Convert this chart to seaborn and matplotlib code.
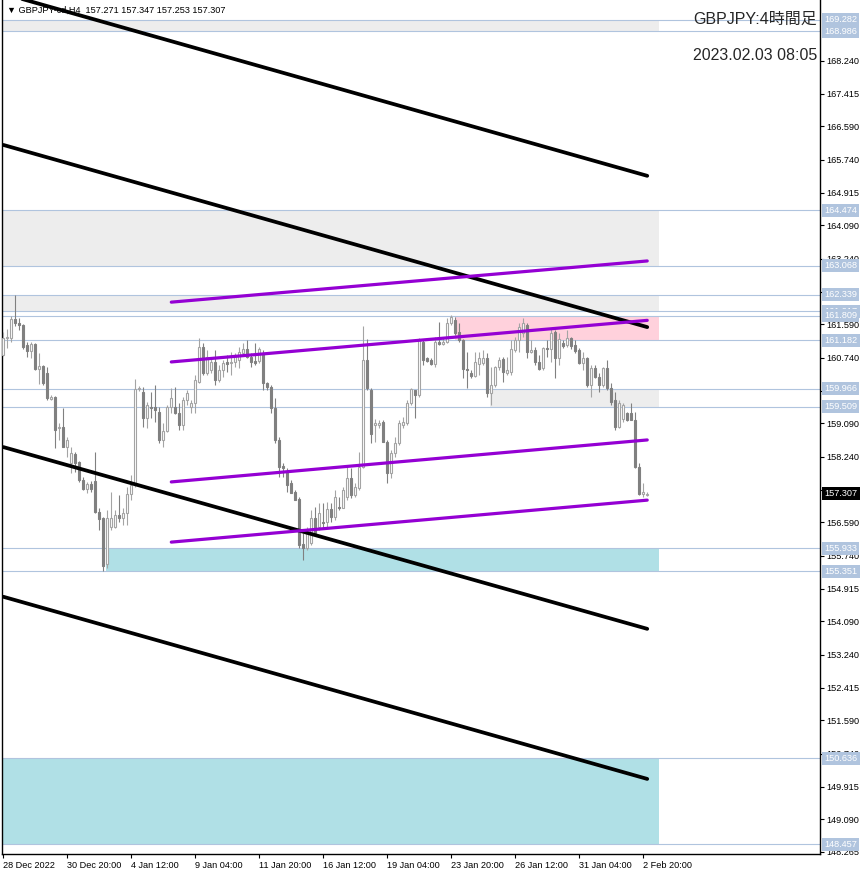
import numpy as np
import pandas as pd
import matplotlib
matplotlib.use("Agg")
import matplotlib.pyplot as plt
import seaborn as sns

# giao dien
sns.set_theme(style="white")
plt.rcParams['font.family'] = ['Liberation Sans', 'Noto Sans CJK JP', 'DejaVu Sans']

# --- du lieu nen H4 (doc tu hinh) ---
opens = [160.82, 161.25, 161.25, 161.72, 161.62, 161.57, 161.07, 160.92, 161.09, 160.46,
         160.54, 160.36, 159.70, 159.76, 158.97, 159.00, 158.49, 158.09, 158.31, 158.11,
         157.66, 157.43, 157.56, 157.63, 156.85, 156.70, 155.54, 156.47, 156.47, 156.77,
         156.70, 156.82, 157.31, 157.53, 159.96, 159.88, 159.22, 159.50, 159.50, 159.38,
         158.67, 158.90, 159.50, 159.50, 159.35, 159.05, 159.68, 159.50, 159.60, 160.13,
         161.02, 160.36, 160.44, 160.64, 160.18, 160.44, 160.64, 160.61, 160.64, 160.69,
         160.87, 160.97, 160.77, 160.66, 160.66, 160.87, 160.11, 160.01, 159.48, 158.67,
         158.01, 157.86, 157.58, 157.36, 157.18, 156.04, 155.94, 156.07, 156.70, 156.47,
         156.60, 156.60, 156.93, 156.72, 156.98, 156.95, 157.23, 157.71, 157.28, 157.46,
         157.99, 160.69, 159.93, 159.05, 159.05, 159.12, 158.62, 157.83, 158.34, 158.59,
         159.05, 159.10, 159.60, 159.93, 159.81, 161.14, 160.74, 160.69, 160.59, 161.14,
         161.09, 161.14, 161.62, 161.70, 161.40, 161.19, 160.46, 160.36, 160.29, 160.59,
         160.61, 160.74, 159.86, 160.06, 160.51, 160.71, 160.36, 160.39, 160.94, 161.19,
         161.37, 161.57, 160.89, 160.94, 160.64, 160.49, 160.99, 160.97, 161.40, 160.74,
         161.12, 161.07, 161.25, 161.07, 160.94, 160.61, 160.74, 160.06, 160.49, 160.26,
         160.06, 160.49, 159.98, 159.68, 159.00, 159.20, 159.35, 159.35, 159.17, 157.99,
         157.31, 157.271]
highs = [161.40, 161.47, 161.80, 162.33, 161.75, 161.60, 161.14, 161.14, 161.12, 160.87,
         160.57, 160.51, 159.81, 159.78, 159.10, 159.48, 158.75, 158.49, 158.36, 158.14,
         157.73, 157.61, 157.63, 158.36, 156.95, 156.72, 156.90, 157.36, 156.90, 157.28,
         156.95, 157.48, 157.78, 160.21, 160.03, 160.01, 159.63, 159.88, 160.06, 159.50,
         159.10, 159.55, 159.98, 160.01, 159.60, 159.76, 159.93, 159.68, 160.31, 161.25,
         161.12, 160.94, 160.77, 160.94, 160.56, 160.69, 160.82, 160.89, 160.87, 161.02,
         161.12, 161.19, 160.87, 161.12, 161.02, 160.94, 160.13, 160.06, 159.73, 158.75,
         158.09, 157.96, 157.66, 157.41, 157.23, 156.32, 156.47, 156.90, 156.98, 157.08,
         157.08, 157.10, 157.08, 157.41, 157.23, 157.48, 157.99, 157.96, 157.58, 158.36,
         161.55, 161.22, 159.98, 159.20, 159.17, 159.17, 158.67, 158.42, 158.75, 159.17,
         159.25, 159.68, 159.98, 159.93, 161.25, 161.19, 160.77, 160.74, 161.27, 161.65,
         161.25, 161.75, 161.83, 161.77, 161.62, 161.22, 160.89, 160.44, 160.89, 160.89,
         160.94, 160.87, 160.51, 160.54, 160.77, 160.77, 160.77, 161.19, 161.27, 161.62,
         161.75, 161.62, 161.19, 161.02, 160.82, 161.02, 161.19, 161.50, 161.45, 161.37,
         161.19, 161.45, 161.27, 161.19, 160.99, 160.89, 160.77, 160.56, 160.56, 160.36,
         160.51, 160.69, 160.11, 159.88, 159.68, 159.60, 159.38, 159.60, 159.38, 158.09,
         157.58, 157.347]
lows = [160.79, 160.99, 161.14, 161.55, 161.45, 160.97, 160.77, 160.74, 160.44, 160.08,
        160.06, 159.68, 159.68, 158.47, 158.67, 158.49, 158.24, 157.83, 157.86, 157.61,
        157.41, 157.33, 157.36, 156.83, 156.40, 155.36, 155.44, 156.40, 156.45, 156.60,
        156.52, 156.52, 157.15, 157.48, 159.91, 159.00, 158.97, 159.22, 159.12, 158.59,
        158.49, 158.87, 159.35, 159.33, 158.92, 158.92, 159.55, 159.35, 159.35, 160.11,
        160.31, 160.31, 160.36, 160.06, 160.13, 160.26, 160.39, 160.31, 160.51, 160.49,
        160.82, 160.74, 160.51, 160.56, 160.61, 159.93, 159.93, 159.35, 158.59, 157.73,
        157.73, 157.36, 157.33, 157.15, 155.94, 155.63, 155.89, 156.02, 156.27, 156.40,
        156.45, 156.47, 156.60, 156.65, 156.90, 156.95, 157.15, 157.20, 157.23, 157.41,
        157.96, 159.93, 158.59, 158.62, 158.97, 158.62, 157.58, 157.71, 158.24, 158.54,
        158.97, 159.05, 159.55, 159.22, 159.76, 160.56, 160.64, 160.56, 160.51, 161.07,
        161.07, 161.12, 161.57, 161.32, 161.14, 160.24, 159.98, 160.24, 160.26, 160.31,
        160.56, 159.76, 159.55, 160.01, 160.44, 160.13, 160.31, 160.31, 160.89, 160.89,
        161.27, 160.74, 160.87, 160.56, 160.44, 160.44, 160.77, 160.64, 160.24, 160.56,
        160.99, 161.02, 160.97, 160.87, 160.59, 160.44, 160.01, 159.76, 160.24, 159.88,
        160.01, 159.93, 159.55, 158.92, 158.97, 159.12, 159.15, 159.17, 157.96, 157.28,
        157.23, 157.253]
closes = [161.25, 161.27, 161.72, 161.62, 161.57, 161.02, 160.92, 161.09, 160.46, 160.54,
          160.11, 159.73, 159.76, 158.92, 159.00, 158.49, 158.67, 158.34, 158.09, 157.66,
          157.43, 157.56, 157.43, 156.85, 156.67, 155.49, 156.70, 156.70, 156.77, 156.70,
          156.82, 157.31, 157.53, 159.96, 159.98, 159.22, 159.55, 159.48, 159.43, 158.67,
          158.90, 159.50, 159.73, 159.35, 159.05, 159.68, 159.86, 159.60, 160.18, 161.02,
          160.36, 160.77, 160.64, 160.18, 160.44, 160.61, 160.59, 160.64, 160.82, 160.89,
          160.97, 160.77, 160.64, 160.61, 160.97, 160.11, 160.01, 159.48, 158.67, 157.99,
          157.96, 157.53, 157.33, 157.15, 156.02, 155.94, 156.32, 156.70, 156.32, 156.82,
          156.57, 156.93, 156.72, 157.23, 156.95, 157.41, 157.71, 157.28, 157.48, 157.99,
          160.69, 159.98, 158.82, 159.10, 159.10, 158.62, 157.83, 158.34, 158.59, 159.10,
          159.12, 159.60, 159.96, 159.81, 161.19, 160.69, 160.66, 160.59, 161.14, 161.09,
          161.14, 161.62, 161.77, 161.37, 161.19, 160.46, 160.44, 160.29, 160.64, 160.74,
          160.74, 159.86, 160.06, 160.51, 160.69, 160.39, 160.44, 160.97, 161.19, 161.52,
          161.62, 160.89, 160.94, 160.64, 160.46, 160.99, 160.97, 161.37, 160.74, 161.22,
          161.04, 161.25, 161.04, 160.92, 160.61, 160.74, 160.06, 160.49, 160.26, 160.06,
          160.49, 159.98, 159.63, 159.00, 159.60, 159.55, 159.17, 159.17, 157.99, 157.31,
          157.36, 157.307]

# nhan truc thoi gian (moi 16 nen)
tick_bars = [0, 16, 32, 48, 64, 80, 96, 112, 128, 144, 160]
tick_labels = ["28 Dec 2022", "30 Dec 20:00", "4 Jan 12:00", "9 Jan 04:00", "11 Jan 20:00",
               "16 Jan 12:00", "19 Jan 04:00", "23 Jan 20:00", "26 Jan 12:00",
               "31 Jan 04:00", "2 Feb 20:00"]
price_ticks = [168.240, 167.415, 166.590, 165.740, 164.915, 164.090, 163.240, 162.415,
               161.590, 160.740, 159.915, 159.090, 158.240, 157.415, 156.590, 155.740,
               154.915, 154.090, 153.240, 152.415, 151.590, 150.740, 149.915, 149.090,
               148.265]

# vung ho tro / khang cu
zone_top = [169.282, 164.474, 162.339, 161.809, 159.966, 155.933, 150.636]
zone_bottom = [168.986, 163.068, 161.917, 161.182, 159.509, 155.351, 148.457]
zone_start = [-1, -1, -1, 112.9, 121.7, 25.6, -1]
zone_color = ['#ededed', '#ededed', '#ededed', '#ffd1dc', '#ededed', '#b0e0e6', '#b0e0e6']
zone_end = 163.9

# kenh xu huong
black_x = [0, 161]
black_start = [169.94, 166.12, 158.49, 154.71]
black_end = [165.34, 161.52, 153.90, 150.11]
purple_x = [42, 161]
purple_start = [162.15, 160.64, 157.61, 156.09]
purple_end = [163.19, 161.69, 158.67, 157.15]

last_price = 157.307
bull_col = '#a4a4a4'
bear_col = '#808080'

fig = plt.figure(figsize=(8.66, 8.76), dpi=100)
ax = fig.add_axes([2 / 866, 22 / 876, 818 / 866, 854 / 876])
ax.set_xlim(-0.33, 204.2)
ax.set_ylim(148.214, 169.78)

# ve cac vung
for top, bot, x0, col in zip(zone_top, zone_bottom, zone_start, zone_color):
    ax.fill_between([x0, zone_end], bot, top, color=col, lw=0, zorder=0)
levels = sorted(set(zone_top + zone_bottom), reverse=True)
for lv in levels:
    ax.axhline(lv, color='#b0c4de', lw=0.8, zorder=1)

# ve nen
x = np.arange(len(opens))
o, h, l, c = map(np.array, (opens, highs, lows, closes))
up = c >= o
ax.vlines(x[up], l[up], h[up], color=bull_col, lw=0.8, zorder=3)
ax.vlines(x[~up], l[~up], h[~up], color=bear_col, lw=0.8, zorder=3)
body = np.maximum(np.abs(c - o), 0.02)
ax.bar(x[up], body[up], bottom=np.minimum(o, c)[up], width=0.58,
       facecolor='white', edgecolor=bull_col, lw=0.8, zorder=4)
ax.bar(x[~up], body[~up], bottom=np.minimum(o, c)[~up], width=0.58,
       facecolor=bear_col, edgecolor=bear_col, lw=0.8, zorder=4)

# duong kenh bang seaborn
rows = []
for k, (s, e) in enumerate(zip(black_start, black_end)):
    rows += [("b%d" % k, black_x[0], s), ("b%d" % k, black_x[1], e)]
df_black = pd.DataFrame(rows, columns=["line", "bar", "price"])
rows = []
for k, (s, e) in enumerate(zip(purple_start, purple_end)):
    rows += [("p%d" % k, purple_x[0], s), ("p%d" % k, purple_x[1], e)]
df_purple = pd.DataFrame(rows, columns=["line", "bar", "price"])
sns.lineplot(data=df_black, x="bar", y="price", units="line", estimator=None,
             color='black', lw=2.7, ax=ax, zorder=5, legend=False)
sns.lineplot(data=df_purple, x="bar", y="price", units="line", estimator=None,
             color='#9400d3', lw=2.3, ax=ax, zorder=5, legend=False)

# truc
ax.yaxis.tick_right()
ax.set_yticks(price_ticks)
ax.set_yticklabels(["%.3f" % v for v in price_ticks], fontsize=6.6)
ax.set_xticks(tick_bars)
ax.set_xticklabels(tick_labels, fontsize=6.6, ha='left')
ax.tick_params(axis='y', which='both', right=True, left=False, length=3, width=0.8, pad=1.5, colors='black')
ax.tick_params(axis='x', which='both', bottom=True, length=3, width=0.8, pad=2, colors='black')
ax.set_xlabel("")
ax.set_ylabel("")
for side in ['left', 'right', 'bottom']:
    ax.spines[side].set_color('black')
    ax.spines[side].set_linewidth(1.0)
ax.spines['top'].set_visible(False)

# nhan muc gia ben phai
label_levels = [169.282, 168.986, 164.474, 163.068, 162.339, 161.917, 161.809, 161.182,
                159.966, 159.509, 155.933, 155.351, 150.636, 148.457]
for lv in label_levels:
    ax.annotate("%.3f" % lv, xy=(1, lv), xycoords=('axes fraction', 'data'),
                xytext=(3.2, 0), textcoords='offset points', ha='left', va='center',
                fontsize=6.6, color='white', annotation_clip=False, zorder=10,
                bbox=dict(boxstyle='square,pad=0.22', fc='#b0c4de', ec='none'))
ax.annotate("%.3f" % last_price, xy=(1, last_price), xycoords=('axes fraction', 'data'),
            xytext=(3.2, 0), textcoords='offset points', ha='left', va='center',
            fontsize=6.6, color='white', annotation_clip=False, zorder=10,
            bbox=dict(boxstyle='square,pad=0.22', fc='black', ec='none'))

# tieu de
fig.text(7 / 866, 1 - 10 / 876, "\u25bc GBPJPY-cd,H4  157.271 157.347 157.253 157.307",
         fontsize=6.6, va='center', ha='left', color='black', zorder=1)
fig.text(817 / 866, 1 - 19 / 876, "GBPJPY:4時間足", fontsize=11.5, ha='right', va='center')
fig.text(817 / 866, 1 - 55 / 876, "2023.02.03 08:05", fontsize=11.5, ha='right', va='center')

fig.savefig("out.png", dpi=100)
